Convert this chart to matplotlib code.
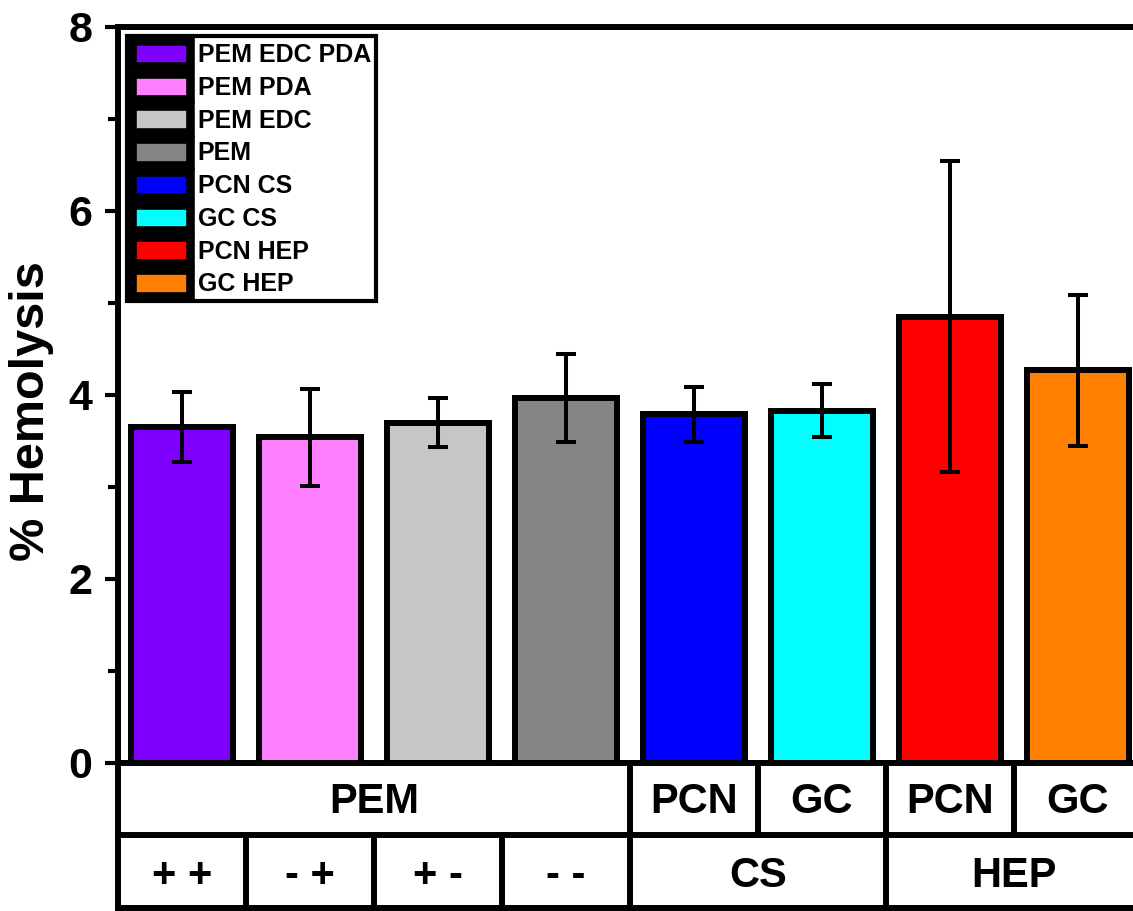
import matplotlib
matplotlib.use("Agg")
import matplotlib.pyplot as plt
import matplotlib.transforms as mtransforms
from matplotlib.patches import Patch
from matplotlib.ticker import MultipleLocator

plt.rcParams['font.family'] = ['Liberation Sans', 'DejaVu Sans']
plt.rcParams['font.weight'] = 'bold'

# данные
samples = ['PEM EDC PDA', 'PEM PDA', 'PEM EDC', 'PEM', 'PCN CS', 'GC CS', 'PCN HEP', 'GC HEP']
hemolysis = [3.65, 3.54, 3.70, 3.97, 3.79, 3.83, 4.85, 4.27]
errors = [0.38, 0.53, 0.27, 0.48, 0.30, 0.29, 1.69, 0.82]
colors = ['#8000FF', '#FF80FF', '#C6C6C6', '#858585', '#0000FF', '#00FFFF', '#FF0000', '#FF8000']

# подписи таблицы под осью
row1_labels = ['PEM', 'PCN', 'GC', 'PCN', 'GC']
row1_spans = [(0, 3), (4, 4), (5, 5), (6, 6), (7, 7)]
row2_labels = ['+ +', '- +', '+ -', '- -', 'CS', 'HEP']
row2_spans = [(0, 0), (1, 1), (2, 2), (3, 3), (4, 5), (6, 7)]

fig = plt.figure(figsize=(11.33, 9.11), dpi=100)
ax = fig.add_axes([118 / 1133, 148 / 911, 1024 / 1133, 736 / 911])

x = list(range(len(samples)))
ax.bar(x, hemolysis, width=0.8, color=colors, edgecolor='black', linewidth=4.3, zorder=2)
ax.errorbar(x, hemolysis, yerr=errors, fmt='none', ecolor='black', elinewidth=2.9,
            capsize=7, capthick=2.9, zorder=3)

ax.set_xlim(-0.5, len(samples) - 0.5)
ax.set_ylim(0, 8)
ax.yaxis.set_major_locator(MultipleLocator(2))
ax.yaxis.set_minor_locator(MultipleLocator(1))
ax.tick_params(axis='y', which='major', length=9.5, width=3, labelsize=31, pad=9)
ax.tick_params(axis='y', which='minor', length=7.5, width=3)
ax.set_xticks([])
for s in ax.spines.values():
    s.set_linewidth(4.3)
ax.spines['right'].set_visible(False)
ax.set_ylabel('% Hemolysis', fontsize=35, fontweight='bold', labelpad=10, y=0.478)

# Таблица под графиком
trans = mtransforms.blended_transform_factory(ax.transData, ax.transAxes)
y0, y1, y2 = 0.0, -0.098, -0.197
lw = 4.3
for yy in (y1, y2):
    ax.plot([-0.5, len(samples) - 0.5], [yy, yy], color='black', lw=lw, transform=trans,
            clip_on=False, solid_capstyle='projecting')
ax.plot([-0.5, -0.5], [y0, y2], color='black', lw=lw, transform=trans, clip_on=False,
        solid_capstyle='projecting')
for (a, b), lab in zip(row1_spans, row1_labels):
    if b < len(samples) - 1:
        ax.plot([b + 0.5, b + 0.5], [y0, y1], color='black', lw=lw, transform=trans, clip_on=False)
    ax.text((a + b) / 2, (y0 + y1) / 2 - 0.004, lab, transform=trans, ha='center', va='center',
            fontsize=30, fontweight='bold')
for (a, b), lab in zip(row2_spans, row2_labels):
    if b < len(samples) - 1:
        ax.plot([b + 0.5, b + 0.5], [y1, y2], color='black', lw=lw, transform=trans, clip_on=False)
    ax.text((a + b) / 2, (y1 + y2) / 2 - 0.006, lab, transform=trans, ha='center', va='center',
            fontsize=30, fontweight='bold')

# Легенда
handles = [Patch(facecolor=c, edgecolor='black', linewidth=6.2, label=s)
           for s, c in zip(samples, colors)]
leg = ax.legend(handles=handles, loc='upper left', bbox_to_anchor=(0.0088, 0.988),
                borderaxespad=0, fontsize=18, handlelength=2.32, handleheight=1.2,
                handletextpad=0.3, labelspacing=0.26, borderpad=0.2, fancybox=False,
                framealpha=1, edgecolor='black')
leg.get_frame().set_linewidth(3)
for t in leg.get_texts():
    t.set_fontweight('bold')

fig.savefig('out.png', dpi=100)
